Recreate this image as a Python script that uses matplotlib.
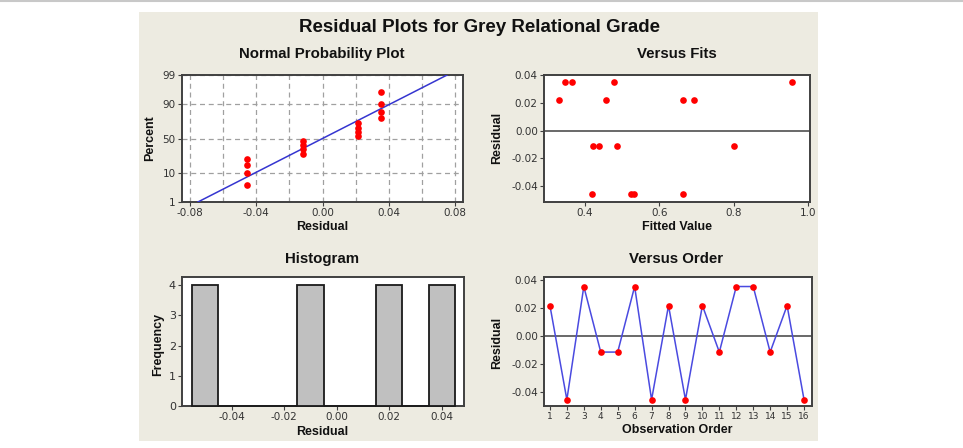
import numpy as np
import matplotlib
matplotlib.use("Agg")
import matplotlib.pyplot as plt
from matplotlib.lines import Line2D
from matplotlib.patches import Rectangle
from matplotlib.ticker import FixedLocator, MultipleLocator
from statistics import NormalDist

# residuals by observation order, and the fitted values they belong to
order = list(range(1, 17))
residuals = [0.0217, -0.0455, 0.0353, -0.0115, -0.0115, 0.0353, -0.0455, 0.0217,
             -0.0455, 0.0217, -0.0115, 0.0353, 0.0353, -0.0115, 0.0217, -0.0455]
fits = [0.331, 0.420, 0.346, 0.421, 0.438, 0.364, 0.525, 0.456,
        0.533, 0.664, 0.487, 0.479, 0.957, 0.800, 0.693, 0.664]
prob_ticks = [1, 10, 50, 90, 99]
hist_edges = np.linspace(-0.055, 0.045, 11)

W, H = 963, 448
def fx(px): return px / W
def fy(py): return 1 - py / H

RED = "#FF0000"
BLUE = "#3535D0"
SPINE = "#404040"
bold = dict(family="Liberation Sans", weight="bold", color="#111111")

fig = plt.figure(figsize=(W / 100, H / 100), dpi=100)
fig.patch.set_facecolor("white")
fig.add_artist(Line2D([0, 1], [fy(0.7), fy(0.7)], transform=fig.transFigure, color="#C8C8C8", lw=1.5))
fig.add_artist(Rectangle((fx(139), fy(441)), 679 / W, 429 / H, transform=fig.transFigure,
                         facecolor="#EDEBE1", edgecolor="none", zorder=-10))

def make_ax(l, t, r, b):
    ax = fig.add_axes([fx(l), fy(b), (r - l) / W, (b - t) / H])
    ax.set_facecolor("white")
    for s in ax.spines.values():
        s.set_color(SPINE)
        s.set_linewidth(1.4)
    ax.tick_params(direction="out", length=3, width=0.8, color=SPINE,
                   labelsize=7.5, labelcolor="#333333", pad=1.5)
    return ax

# normal probability plot
ax1 = make_ax(182, 75, 463, 202)
nd = NormalDist()
srt = np.sort(residuals)
n = len(srt)
pct = [(i - 0.3) / (n + 0.4) for i in range(1, n + 1)]
z = [nd.inv_cdf(p) for p in pct]
mu, sd = np.mean(residuals), np.std(residuals, ddof=1)
zlim = (nd.inv_cdf(0.01), nd.inv_cdf(0.99))
ax1.plot([mu + zlim[0] * sd, mu + zlim[1] * sd], zlim, color=BLUE, lw=1.1, zorder=3)
ax1.plot(srt, z, "o", color=RED, ms=4.8, mec="none", zorder=4)
ax1.set_xlim(-0.0848, 0.0848)
ax1.set_ylim(*zlim)
ax1.xaxis.set_major_locator(FixedLocator([-0.08, -0.04, 0.0, 0.04, 0.08]))
ax1.xaxis.set_minor_locator(MultipleLocator(0.02))
ax1.set_xticklabels(["-0.08", "-0.04", "0.00", "0.04", "0.08"])
ax1.set_yticks([nd.inv_cdf(p / 100) for p in prob_ticks])
ax1.set_yticklabels([str(p) for p in prob_ticks])
ax1.tick_params(which="minor", length=0)
ax1.set_axisbelow(True)
ax1.grid(True, which="both", color="#A0A0A0", ls=(0, (4, 3)), lw=0.9)

# versus fits
ax2 = make_ax(544, 75, 810, 202)
ax2.axhline(0, color=SPINE, lw=1.1, zorder=2)
ax2.plot(fits, residuals, "o", color=RED, ms=4.8, mec="none", zorder=4)
ax2.set_xlim(0.29, 1.005)
ax2.set_ylim(-0.0515, 0.04)
ax2.set_xticks([0.4, 0.6, 0.8, 1.0])
ax2.set_xticklabels(["0.4", "0.6", "0.8", "1.0"])
ax2.set_yticks([-0.04, -0.02, 0.0, 0.02, 0.04])
ax2.set_yticklabels(["-0.04", "-0.02", "0.00", "0.02", "0.04"])

# histogram
ax3 = make_ax(182, 277, 464, 406)
counts, _ = np.histogram(residuals, bins=hist_edges)
centers = (hist_edges[:-1] + hist_edges[1:]) / 2
ax3.bar(centers, counts, width=0.01, color="#C0C0C0", edgecolor="#1A1A1A", lw=1.3,
        zorder=3, clip_on=False)
ax3.set_xlim(-0.0589, 0.0485)
ax3.set_ylim(0, 4.27)
ax3.set_xticks([-0.04, -0.02, 0.0, 0.02, 0.04])
ax3.set_xticklabels(["-0.04", "-0.02", "0.00", "0.02", "0.04"])
ax3.set_yticks([0, 1, 2, 3, 4])
ax3.tick_params(axis="y", labelsize=8)

# versus order
ax4 = make_ax(544, 277, 812, 406)
ax4.axhline(0, color=SPINE, lw=1.1, zorder=2)
ax4.plot(order, residuals, "-", color="#4A4AE0", lw=1.1, zorder=3)
ax4.plot(order, residuals, "o", color=RED, ms=4.8, mec="none", zorder=4)
ax4.set_xlim(0.65, 16.47)
ax4.set_ylim(-0.05, 0.0421)
ax4.set_xticks(order)
ax4.tick_params(axis="x", labelsize=6.5)
ax4.set_yticks([-0.04, -0.02, 0.0, 0.02, 0.04])
ax4.set_yticklabels(["-0.04", "-0.02", "0.00", "0.02", "0.04"])

# titles and labels
fig.text(fx(479), fy(27), "Residual Plots for Grey Relational Grade", ha="center", va="center", fontsize=13.5, **bold)
for x, y, s in [(322, 54, "Normal Probability Plot"), (677, 54, "Versus Fits"),
                (322, 259, "Histogram"), (676, 259, "Versus Order")]:
    fig.text(fx(x), fy(y), s, ha="center", va="center", fontsize=10.8, **bold)
for x, y, s in [(322, 227, "Residual"), (677, 227, "Fitted Value"),
                (322, 432, "Residual"), (677, 430, "Observation Order")]:
    fig.text(fx(x), fy(y), s, ha="center", va="center", fontsize=9, **bold)
for x, y, s in [(150, 138, "Percent"), (497, 138, "Residual"),
                (158, 344, "Frequency"), (497, 343, "Residual")]:
    fig.text(fx(x), fy(y), s, ha="center", va="center", rotation=90, fontsize=9, **bold)

fig.savefig("out.png", dpi=100)
